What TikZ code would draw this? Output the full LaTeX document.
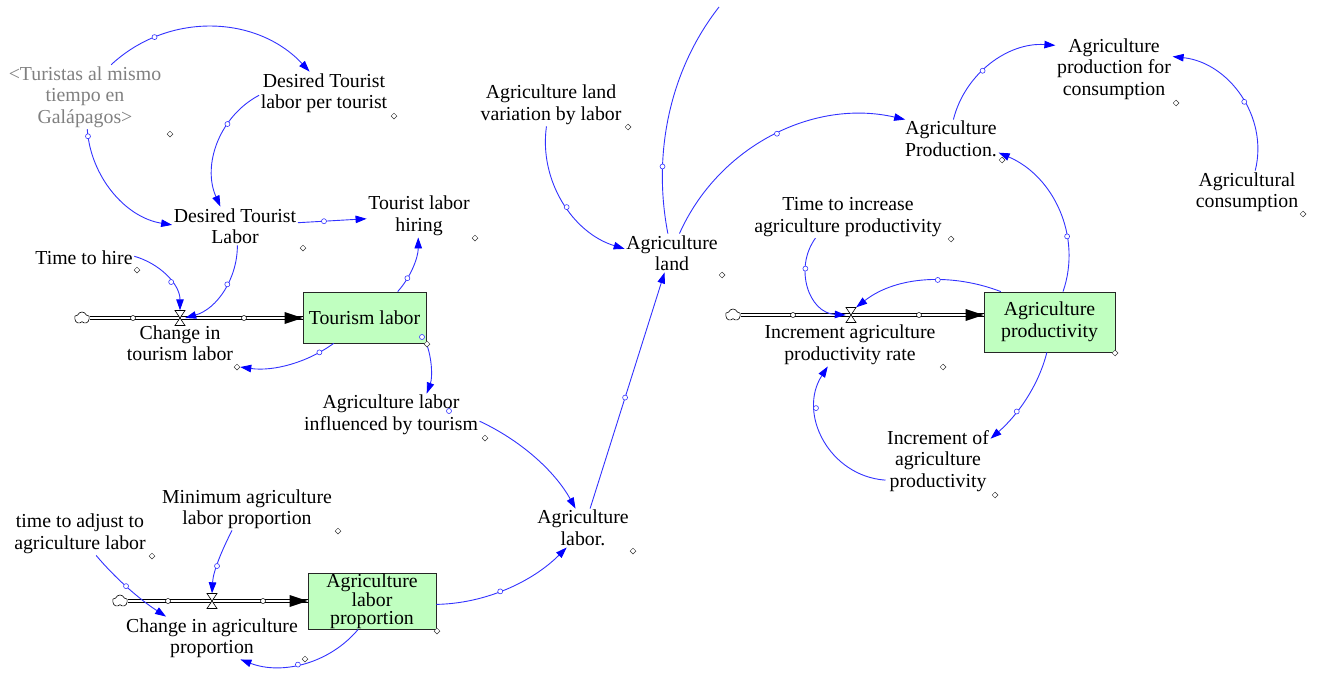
\documentclass[tikz,border=0pt]{standalone}
\usepackage{fontspec}
\setmainfont{Liberation Serif}
\usetikzlibrary{arrows.meta,shapes.geometric,shapes.symbols}

\definecolor{linkblue}{RGB}{50,50,255}
\definecolor{tipblue}{RGB}{0,0,255}
\definecolor{stockfill}{RGB}{192,255,192}
\definecolor{shadowgray}{RGB}{128,128,128}

\newcommand\diagfont{\fontsize{19.8}{21.5}\selectfont}

\begin{document}
\begin{tikzpicture}[x=1pt,y=1pt,
  var/.style={align=center, inner sep=1.5pt, font=\diagfont},
  shadowvar/.style={var, text=shadowgray},
  stock/.style={draw=black!85, fill=stockfill, line width=0.8pt, align=center,
    font=\diagfont, inner sep=0pt},
  link/.style={draw=linkblue, line width=0.9pt,
    -{Triangle[length=11pt,width=7.5pt,color=tipblue]}},
  linkline/.style={draw=linkblue, line width=0.9pt},
  handle/.style={circle, draw=linkblue, fill=white, line width=0.6pt,
    inner sep=0pt, minimum size=5pt},
  varmark/.style={diamond, draw=black!80, fill=white, line width=0.5pt,
    inner sep=0pt, minimum size=6pt},
  pipe/.style={draw=black, double=white, double distance=2pt, line width=1pt},
  pipedot/.style={circle, draw=black, fill=white, line width=0.5pt,
    inner sep=0pt, minimum size=5pt},
  source/.style={cloud, cloud puffs=5, cloud puff arc=140, aspect=1.2,
    draw=black, fill=white, line width=0.6pt,
    inner sep=0pt, minimum width=15pt, minimum height=12pt},
  valve/.style={inner sep=0pt, minimum width=10pt, minimum height=15pt},
  valvepic/.pic={\draw[fill=white, line width=0.6pt]
    (-5,7.5) -- (5,7.5) -- (-5,-7.5) -- (5,-7.5) -- cycle;}
]
\useasboundingbox (0,0) rectangle (1317,-673);

% ---------- variables ----------
\node[shadowvar] (tur)   at (85,-97)   {<Turistas al mismo\\tiempo en\\Galápagos>};
\node[var] (dtlpt) at (324,-93)  {Desired Tourist\\labor per tourist};
\node[var] (dtl)   at (235,-226) {Desired Tourist\\Labor};
\node[var] (tlh)   at (419,-216) {Tourist labor\\hiring};
\node[var] (tth)   at (84,-258)  {Time to hire};
\node[var] (ctl)   at (180,-343) {Change in\\tourism labor};
\node[var] (alit)  at (391,-415) {Agriculture labor\\influenced by tourism};
\node[var] (map)   at (247,-509) {Minimum agriculture\\labor proportion};
\node[var] (tat)   at (80,-534)  {time to adjust to\\agriculture labor};
\node[var] (cap)   at (212,-638) {Change in agriculture\\proportion};
\node[var] (al)    at (583,-528) {Agriculture\\labor.};
\node[var] (alvl)  at (551,-105) {Agriculture land\\variation by labor};
\node[var] (land)  at (672,-253) {Agriculture\\land};
\node[var] (prod)  at (951,-139) {Agriculture\\Production.};
\node[var] (pfc)   at (1114,-69) {Agriculture\\production for\\consumption};
\node[var] (cons)  at (1247,-192) {Agricultural\\consumption};
\node[var] (tip)   at (848,-217) {Time to increase\\agriculture productivity};
\node[var] (iapr)  at (850,-345) {Increment agriculture\\productivity rate};
\node[var] (inc)   at (938,-461) {Increment of\\agriculture\\productivity};

% ---------- stocks ----------
\node[stock, minimum width=123pt, minimum height=51pt] (tl) at (364.5,-317.5) {Tourism labor};
\node[stock, minimum width=128pt, minimum height=56pt,
      font=\fontsize{19.8}{18}\selectfont] (alp) at (372,-601) {Agriculture\\labor\\proportion};
\node[stock, minimum width=131pt, minimum height=60pt] (ap) at (1049.5,-322) {Agriculture\\productivity};

% ---------- flows ----------
\node[source] (c1) at (82,-318) {};
\node[valve]  (v1) at (180,-318) {};
\draw[pipe] (c1.east) -- (tl.west |- c1.east);
\fill (tl.west |- c1.east) -- ++(-18,6) -- ++(0,-12) -- cycle;
\pic at (v1) {valvepic};
\node[pipedot] (p1a) at (133,-318) {};
\node[pipedot] (p1b) at (244,-318) {};

\node[source] (c2) at (120,-601) {};
\node[valve]  (v2) at (212,-601) {};
\draw[pipe] (c2.east) -- (alp.west |- c2.east);
\fill (alp.west |- c2.east) -- ++(-18,6) -- ++(0,-12) -- cycle;
\pic at (v2) {valvepic};
\node[pipedot] (p2a) at (168,-601) {};
\node[pipedot] (p2b) at (263,-601) {};

\node[source] (c3) at (733,-315) {};
\node[valve]  (v3) at (851,-315) {};
\draw[pipe] (c3.east) -- (ap.west |- c3.east);
\fill (ap.west |- c3.east) -- ++(-18,6) -- ++(0,-12) -- cycle;
\pic at (v3) {valvepic};
\node[pipedot] (p3a) at (793,-315) {};
\node[pipedot] (p3b) at (919,-315) {};

% ---------- label markers ----------
\node[varmark] (mctl) at (237,-367) {};
\coordinate (ltop) at (719,-7);

% ---------- causal links ----------
\draw[link] (tur.51) to[out=43,in=133,looseness=1.0] node[handle,pos=0.23] (h1) {} (dtlpt.124);
\draw[link] (tur.-86) to[out=-86,in=171,looseness=0.95] node[handle,pos=0.05] (h2) {} (dtl.179);
\draw[link] (dtlpt.182) to[out=-152,in=114,looseness=0.98] node[handle,pos=0.33] (h3) {} (dtl.127);
\draw[link] (dtl.3) -- node[handle,pos=0.38] (h4) {} (tlh.183);
\draw[link] (dtl.-83) to[out=-90,in=16,looseness=0.95] node[handle,pos=0.42] (h5) {} (v1.east);
\draw[link] (tth.2) to[out=-16,in=90,looseness=0.95] node[handle,pos=0.6] (h6) {} (v1.north);
\draw[link] (tl.38) to[out=48,in=-90,looseness=0.88] node[handle,pos=0.28] (h7) {} (tlh.-92);
\draw[link] (tl.-140) to[out=-144,in=-8,looseness=0.88] node[handle,pos=0.17] (h8) {} (mctl.east);
\draw[link] (tl.south east) to[out=-70,in=70,looseness=0.87] (alit.31);
\node[handle] (h9) at (422,-337) {};
\draw[link] (alit.-4) to[out=-25,in=119,looseness=0.87] (al.111);
\node[handle] (h10) at (449,-411) {};
\draw[link] (al.70) -- node[handle,pos=0.47] (h11) {} (land.-111);
\draw[link] (alp.-3.5) to[out=1,in=-135,looseness=0.88] node[handle,pos=0.45] (h12) {} (al.-130);
\draw[link] (alp.-116) to[out=-130,in=-21,looseness=0.94] node[handle,pos=0.55] (h13) {} (cap.-37);
\draw[link] (tat.-53) to[out=-50,in=147,looseness=0.85] node[handle,pos=0.46] (h14) {} (cap.155);
\draw[link] (map.-125) to[out=-117,in=87,looseness=0.86] node[handle,pos=0.58] (h15) {} (v2.north);
\draw[link] (alvl.-102) to[out=-98,in=163,looseness=0.96] node[handle,pos=0.54] (h16) {} (land.175);
\draw[link] (land.69) to[out=66,in=167,looseness=0.96] node[handle,pos=0.52] (h17) {} (prod.157);
\draw[linkline] (land.102) to[out=101,in=232,looseness=0.89] node[handle,pos=0.28] (h18) {} (ltop);
\draw[link] (prod.83) to[out=76,in=176,looseness=0.96] node[handle,pos=0.42] (h19) {} (pfc.158);
\draw[link] (cons.69) to[out=76,in=-6,looseness=1.02] node[handle,pos=0.45] (h20) {} (pfc.12);
\draw[link] (ap.66) to[out=71,in=-23,looseness=0.99] node[handle,pos=0.33] (h21) {} (prod.-16);
\draw[link] (ap.148) to[out=159,in=38,looseness=0.91] node[handle,pos=0.42] (h22) {} (v3.north east);
\draw[link] (tip.-147) to[out=-126,in=177,looseness=1.15] node[handle,pos=0.31] (h23) {} (v3.west);
\draw[link] (ap.-95) to[out=-104,in=41,looseness=0.87] node[handle,pos=0.64] (h24) {} (inc.23);
\draw[link] (inc.-160) to[out=176,in=-123,looseness=1.13] node[handle,pos=0.72] (h25) {} (iapr.-136);

% ---------- variable markers ----------
\node[varmark] (mtur)   at (170,-134) {};
\node[varmark] (mdtlpt) at (394,-116) {};
\node[varmark] (mdtl)   at (303,-248) {};
\node[varmark] (mtth)   at (137,-270) {};
\node[varmark] (mtlh)   at (475,-238) {};
\node[varmark] (mtl)    at (427,-344) {};
\node[varmark] (malit)  at (485,-438) {};
\node[varmark] (mmap)   at (338,-531) {};
\node[varmark] (mtat)   at (152,-556) {};
\node[varmark] (mcap)   at (305,-659) {};
\node[varmark] (malp)   at (437,-631) {};
\node[varmark] (mal)    at (633,-551) {};
\node[varmark] (malvl)  at (628,-127) {};
\node[varmark] (mland)  at (722,-275) {};
\node[varmark] (mprod)  at (1002,-160) {};
\node[varmark] (mpfc)   at (1176,-103) {};
\node[varmark] (mcons)  at (1303,-214) {};
\node[varmark] (mtip)   at (951,-239) {};
\node[varmark] (miapr)  at (943,-367) {};
\node[varmark] (map2)   at (1115,-353) {};
\node[varmark] (minc)   at (995,-495) {};
\end{tikzpicture}
\end{document}
